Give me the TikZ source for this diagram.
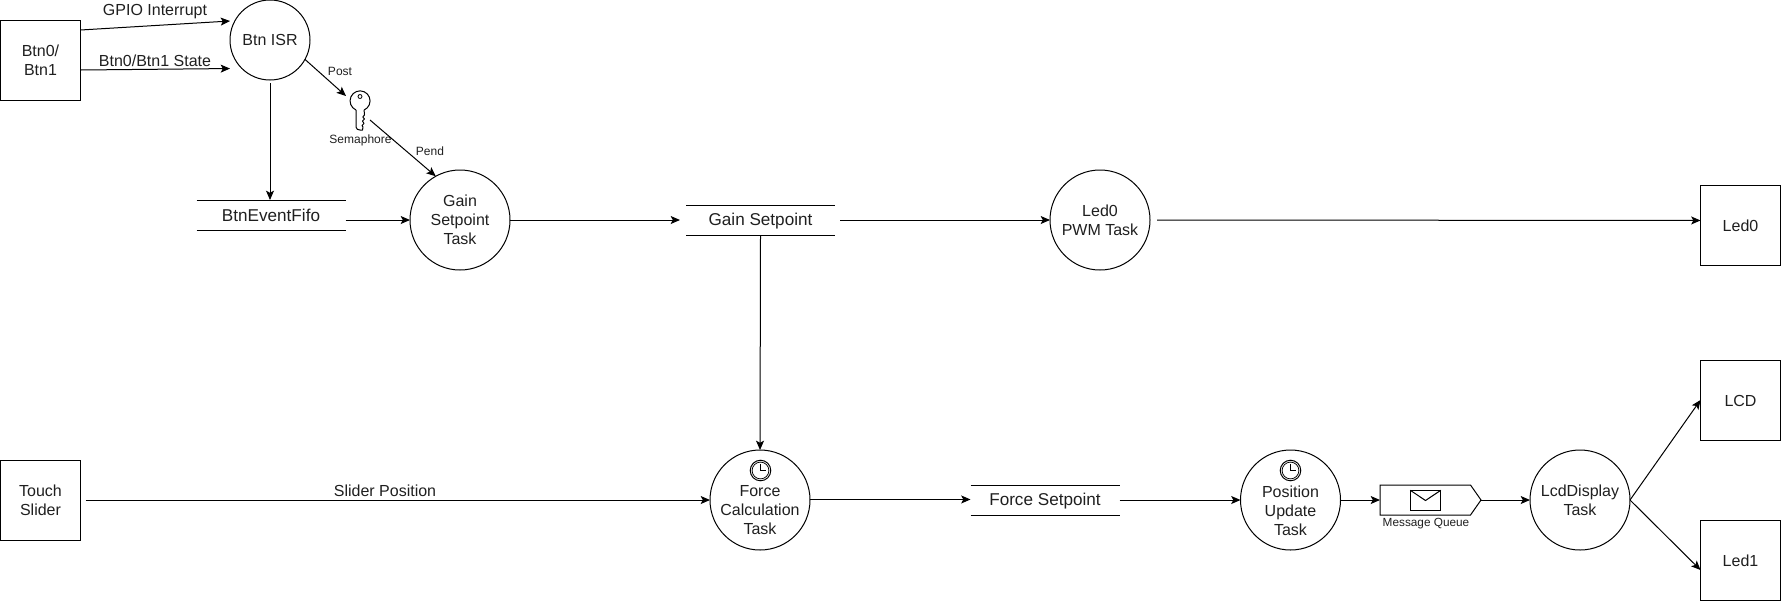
\documentclass[tikz,border=0pt]{standalone}
\usepackage{fontspec}
\setmainfont{Liberation Sans}
\usetikzlibrary{arrows.meta}
\tikzset{
  every node/.style={inner sep=0pt,outer sep=0pt,text=black!88},
  rise/.style={execute at begin node={\rule{0pt}{#1}}},
  base/.style={font=\fontsize{12}{14.25}\selectfont,align=center},
  storefont/.style={font=\fontsize{12.85}{14.25}\selectfont,align=center},
  lab/.style={base},
  small/.style={font=\fontsize{9}{11}\selectfont},
  tiny/.style={font=\fontsize{8.85}{10}\selectfont},
  boxn/.style={base,rise=10.2pt,draw=black,line width=0.75pt,minimum size=60pt,shape=rectangle},
  task/.style={base,rise=10.2pt,draw=black,line width=0.75pt,shape=circle,minimum size=75pt},
  isrn/.style={base,draw=black,line width=0.75pt,shape=circle,minimum size=60pt},
  ttext/.style={base,rise=10.8pt},
  store/.style={storefont,shape=rectangle,minimum width=111.75pt,minimum height=22.5pt},
  sline/.style={draw=black,line width=0.75pt},
  arr/.style={draw=black,line width=0.75pt,-{Stealth[length=7pt,width=6pt,inset=1.6pt]}},
  icon/.style={draw=black,line width=0.75pt},
  clockicon/.pic={
    \draw[icon] (0,0) circle (7.7pt);
    \draw[line width=0.55pt] (0,0) circle (6.3pt);
    \draw[line width=0.6pt] (0,4.6pt) -- (0,0) -- (3.8pt,0);
  }
}
\begin{document}
\begin{tikzpicture}[x=0.75pt,y=-0.75pt]
\useasboundingbox (0,0) rectangle (1781,601);
% boxes
\node[boxn] (btn) at (40.5,60) {Btn0/\\Btn1};
\node[boxn] (touch) at (40.5,500) {Touch\\Slider};
\node[boxn] (led0) at (1740.5,225) {Led0};
\node[boxn] (lcd) at (1740.5,400) {LCD};
\node[boxn] (led1) at (1740.5,560) {Led1};
% tasks
\node[isrn] (isr) at (270,40) {Btn ISR};
\node[task] (gain) at (460,220) {Gain\\Setpoint\\Task};
\node[task] (pwm) at (1100,220) {Led0\\PWM Task};
\node[task] (force) at (760,500) {};
\node[ttext] (forcet) at (760,510.5) {Force\\Calculation\\Task};
\node[task] (pos) at (1290.5,500) {};
\node[ttext] (post) at (1290.5,510.5) {Position\\Update\\Task};
\node[task] (disp) at (1580,500) {LcdDisplay\\Task};
\pic at (760.5,470.5) {clockicon};
\pic at (1290.5,470.5) {clockicon};
% stores
\node[store] (fifo) at (271,215) {BtnEventFifo};
\node[store,rise=11.5pt] (gsp) at (760.5,220) {Gain Setpoint};
\node[store,rise=11.5pt] (fsp) at (1045,500) {Force Setpoint};
\foreach \s in {fifo,gsp,fsp}{
  \draw[sline] (\s.north west) -- (\s.north east);
  \draw[sline] (\s.south west) -- (\s.south east);
}
% message queue
\node[shape=rectangle,minimum width=75.75pt,minimum height=22.5pt] (mq) at (1430.5,500) {};
\draw[icon] (mq.north west) -- ++(90.5,0) -- (mq.east) -- ++(-10.5,15) -- (mq.south west) -- cycle;
\coordinate (env) at (1425.5,500.5);
\draw[icon] ([xshift=-11.5pt,yshift=7.7pt]env) rectangle ([xshift=11.5pt,yshift=-7.7pt]env);
\draw[icon] ([xshift=-11.5pt,yshift=7.7pt]env) -- (env) -- ([xshift=11.5pt,yshift=7.7pt]env);
\node[tiny] (mql) at (1426,524) {Message Queue};
% key
\coordinate (key) at (360,110);
\draw[icon,line join=round] (356,110) arc[start angle=246,end angle=-66,radius=7.5pt];
\draw[icon,line join=round] (356,110) -- (356,127) .. controls (356,129) and (358,130) .. (360,130) -- (362.5,130) -- (363,127) -- (362,125.5) -- (364,123.5) -- (362.5,121) -- (364.5,119) -- (362.8,117) -- (364.5,115) -- (364.1,110);
\draw[line width=0.6pt] (360,96.5) circle (1.5pt);
\node[small] (sem) at (360.5,140.5) {Semaphore};
% connectors
\draw[arr] ([yshift=22.5pt]btn.east) -- ([yshift=14.25pt]isr.west);
\draw[arr] ([yshift=-7.5pt]btn.east) -- ([yshift=-21.4pt]isr.west);
\draw[arr] (isr.-29) -- ([xshift=-10.5pt,yshift=10.5pt]key);
\draw[arr] ([xshift=7.5pt,yshift=-7.5pt]key) -- (gain.119);
\draw[arr] ([yshift=-2.25pt]isr.south) -- (isr.south |- fifo.north);
\draw[arr] ([yshift=-3.75pt]fifo.east) -- (gain.west);
\draw[arr] (gain.east) -- ([xshift=-4.5pt]gsp.west);
\draw[arr] ([xshift=3.75pt]gsp.east) -- (pwm.west);
\draw[arr] (gsp.south) -- (force.north);
\draw[arr] ([xshift=5.25pt]pwm.east) -- ([yshift=3.4pt]led0.west);
\draw[arr] ([xshift=3.75pt]touch.east) -- (force.west);
\draw[arr] ([yshift=0.4pt]force.east) -- ([yshift=0.4pt]fsp.west);
\draw[arr] (fsp.east) -- (pos.west);
\draw[arr] (pos.east) -- (mq.west);
\draw[arr] (mq.east) -- (disp.west);
\draw[arr] (disp.east) -- (lcd.west);
\draw[arr] (disp.east) -- ([yshift=-7.5pt]led1.west);
% labels
\node[lab] (l1) at (155,11.5) {GPIO Interrupt};
\node[lab] (l2) at (155,61) {Btn0/Btn1 State};
\node[small] (l3) at (340,71) {Post};
\node[small] (l4) at (430,151) {Pend};
\node[lab] (l5) at (385,491) {Slider Position};
\end{tikzpicture}
\end{document}
